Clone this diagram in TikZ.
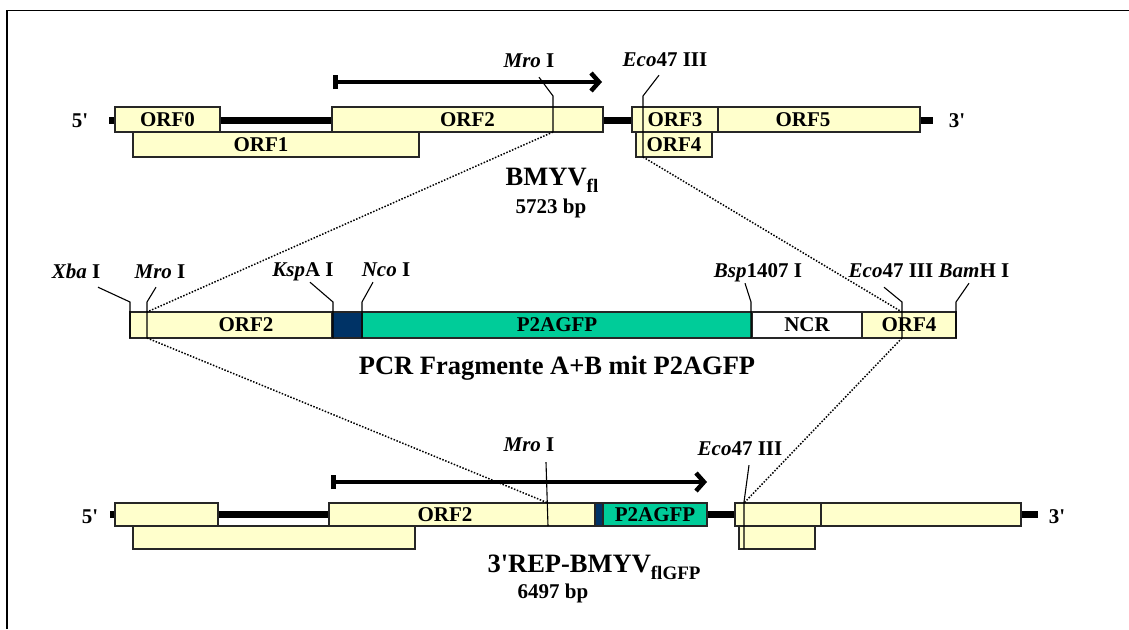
\documentclass[tikz,border=0pt]{standalone}
\usepackage{fontspec}
\setmainfont{Liberation Serif}
\usetikzlibrary{arrows.meta, positioning}
\definecolor{orfyellow}{HTML}{FFFFCC}
\definecolor{gfpgreen}{HTML}{00CC99}
\definecolor{linkblue}{HTML}{003366}
\newcommand{\prm}{\textquotesingle}

\begin{document}
\begin{tikzpicture}[
  x=1pt, y=-1pt,
  lbl/.style={font=\fontsize{21}{23}\selectfont\bfseries, inner sep=0pt},
  enz/.style={lbl, text height=14pt, text depth=4pt},
  title/.style={font=\fontsize{26.5}{28}\selectfont\bfseries, inner sep=0pt, anchor=base},
  orf/.style={draw=black!85, line width=1.3pt, fill=orfyellow, inner sep=0pt, outer sep=0pt,
              minimum height=25pt, anchor=north west, lbl},
  midbox/.style={orf, minimum height=26pt},
  lowbox/.style={orf, minimum height=23pt},
  genome/.style={line width=7pt},
  site/.style={line width=1.1pt},
  link/.style={line width=1.5pt, dash pattern=on 1.5pt off 1.6pt},
  pol/.style={line width=4.5pt, arrows={Bar[width=14pt]-Straight Barb[length=8pt,width=18pt]}}
]
\useasboundingbox (0,0) rectangle (1129,629);
\draw[line width=1.5pt] (7,629) -- (7,10.5) -- (1129,10.5);

% BMYV full length
\coordinate (topstart) at (109,120);
\coordinate (topend) at (933,120);
\draw[genome] (topstart) -- (topend);
\node[orf, minimum width=105] (orf0) at (115,107) {ORF0};
\node[orf, minimum width=286] (orf1) at (133,132) {ORF1\kern30pt};
\node[orf, minimum width=271] (orf2) at (332,107) {ORF2};
\node[orf, minimum width=86] (orf3) at (632,107) {ORF3};
\node[orf, minimum width=202, right=0pt of orf3] (orf5) {ORF5\kern32pt};
\node[orf, minimum width=76] (orf4) at (636,132) {ORF4};
\node[lbl] (fiveA) at (80,121) {5\prm};
\node[lbl] (threeA) at (957,121) {3\prm};
\coordinate (polA) at (333,82);
\coordinate (polB) at (602,82);
\draw[pol] (polA) -- (polB);

\node[enz] (mroA) at (529,62) {\textit{Mro} I};
\node[enz] (ecoA) at (665,61) {\textit{Eco}47 III};
\coordinate (mroAk) at (553,96);
\coordinate (ecoAk) at (643,96);
\coordinate (mroAs) at (mroAk |- orf2.south);
\coordinate (ecoAs) at (ecoAk |- orf4.south);
\draw[site] ([xshift=10pt,yshift=-6pt]mroA.south) -- (mroAk) -- (mroAs);
\draw[site] ([xshift=-6pt,yshift=-5pt]ecoA.south) -- (ecoAk) -- (ecoAs);

\node[title] (bmyv) at (552,185) {BMYV\raisebox{-7pt}{\fontsize{19}{20}\selectfont fl}};
\node[lbl, anchor=base] (bmyvlen) at (551,213) {5723 bp};

% PCR fragment
\node[midbox, minimum width=202] (morf2) at (130,312) {\kern30pt ORF2};
\node[midbox, fill=linkblue, minimum width=30, right=0pt of morf2] (ksplink) {};
\node[midbox, fill=gfpgreen, minimum width=390, right=0pt of ksplink] (gfp) {P2AGFP};
\node[midbox, fill=white, minimum width=110, right=0pt of gfp] (ncr) {NCR};
\node[midbox, minimum width=94, right=0pt of ncr] (morf4) {ORF4};

\node[enz] (xba) at (76,273) {\textit{Xba} I};
\node[enz] (mroB) at (160,273) {\textit{Mro} I};
\node[enz] (ksp) at (303,271) {\textit{Ksp}A I};
\node[enz] (nco) at (386,271) {\textit{Nco} I};
\node[enz] (bsp) at (758,272) {\textit{Bsp}1407 I};
\node[enz] (ecoB) at (891,272) {\textit{Eco}47 III};
\node[enz] (bam) at (974,272) {\textit{Bam}H I};
\coordinate (xbak) at (130,302);
\coordinate (mroBk) at (147,302);
\coordinate (kspk) at (333,302);
\coordinate (ncok) at (362,302);
\coordinate (bspk) at (751,302);
\coordinate (ecoBk) at (902,302);
\coordinate (bamk) at (956,302);
\draw[site] ([xshift=22pt,yshift=-5pt]xba.south) -- (xbak) -- (xbak |- morf2.south);
\draw[site] ([xshift=-4pt,yshift=-5pt]mroB.south) -- (mroBk) -- (mroBk |- morf2.south);
\draw[site] ([xshift=7pt,yshift=-2pt]ksp.south) -- (kspk) -- (kspk |- morf2.south);
\draw[site] ([xshift=-13pt,yshift=-2pt]nco.south) -- (ncok) -- (ncok |- morf2.south);
\draw[site] ([xshift=-13pt,yshift=-2pt]bsp.south) -- (bspk) -- (bspk |- morf2.south);
\draw[site] ([xshift=-7pt,yshift=-6pt]ecoB.south) -- (ecoBk) -- (ecoBk |- morf2.south);
\draw[site] ([xshift=-5pt,yshift=-2pt]bam.south) -- (bamk) -- (bamk |- morf2.south);

\node[title] (pcr) at (557,374) {PCR Fragmente A+B mit P2AGFP};

% 3'REP-BMYV with GFP
\coordinate (lowstart) at (110,514);
\coordinate (lowend) at (1038,514);
\draw[genome] (lowstart) -- (lowend);
\node[lowbox, minimum width=103] (borf0) at (115,503) {};
\node[lowbox, minimum width=282] (borf1) at (133,526) {};
\node[lowbox, minimum width=266] (borf2) at (329,503) {ORF2\kern34pt};
\node[lowbox, fill=linkblue, minimum width=8, right=0pt of borf2] (blink) {};
\node[lowbox, fill=gfpgreen, minimum width=104, right=0pt of blink] (bgfp) {P2AGFP};
\node[lowbox, minimum width=86] (borf3) at (735,503) {};
\node[lowbox, minimum width=200, right=0pt of borf3] (borf5) {};
\node[lowbox, minimum width=76] (borf4) at (739,526) {};
\node[lbl] (fiveC) at (90,517) {5\prm};
\node[lbl] (threeC) at (1057,517) {3\prm};
\coordinate (polC) at (331,482);
\coordinate (polD) at (707,482);
\draw[pol] (polC) -- (polD);

\node[enz] (mroC) at (529,446) {\textit{Mro} I};
\node[enz] (ecoC) at (740,450) {\textit{Eco}47 III};
\coordinate (mroCs) at (548,526);
\coordinate (ecoCk) at (744,502);
\coordinate (ecoCs) at (ecoCk |- borf4.south);
\draw[site] ([xshift=17pt,yshift=-7pt]mroC.south) -- (mroCs);
\draw[site] ([xshift=9pt,yshift=-6pt]ecoC.south) -- (ecoCk) -- (ecoCs);

\node[title] (rep) at (594,572) {3\prm REP-BMYV\raisebox{-7pt}{\fontsize{19}{20}\selectfont flGFP}};
\node[lbl, anchor=base] (replen) at (553,598) {6497 bp};

% dotted cross-over links
\draw[link] (mroAs) -- (mroBk |- morf2.north);
\draw[link] (ecoAs) -- (ecoBk |- morf2.north);
\draw[link] (mroBk |- morf2.south) -- (mroCs |- borf2.north);
\draw[link] (ecoBk |- morf2.south) -- (ecoCk |- borf3.north);
\end{tikzpicture}
\end{document}
